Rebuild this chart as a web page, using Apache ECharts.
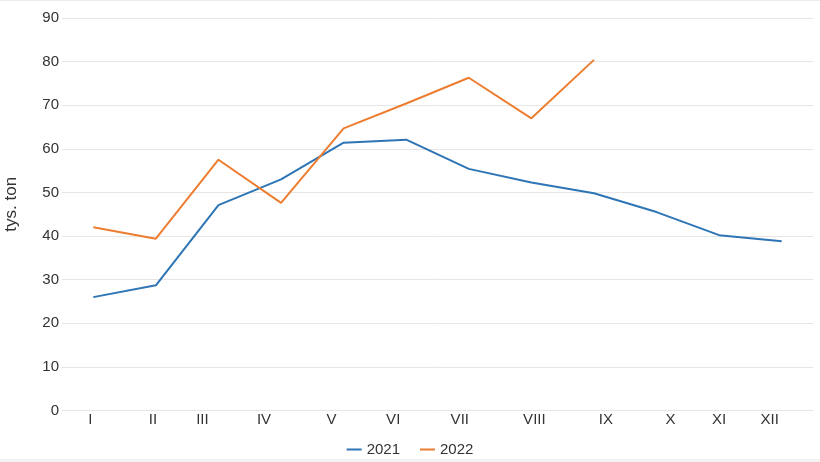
<!DOCTYPE html>
<html>
<head>
<meta charset="utf-8">
<script src="https://cdn.jsdelivr.net/npm/echarts@6/dist/echarts.min.js"></script>
<style>
  html, body { margin: 0; padding: 0; background: #f3f3f3; }
  #chart { width: 820px; height: 459px; background: #ffffff; border-top: 1px solid #ececec; box-sizing: border-box; }
</style>
</head>
<body>
<div id="chart"></div>
<script>
const months = ['I', 'II', 'III', 'IV', 'V', 'VI', 'VII', 'VIII', 'IX', 'X', 'XI', 'XII'];
const values2021 = [26.0, 28.7, 47.1, 53.0, 61.4, 62.1, 55.4, 52.3, 49.8, 45.5, 40.2, 38.8];
const values2022 = [42.0, 39.4, 57.5, 47.6, 64.7, 70.4, 76.3, 67.0, 80.4];
const yTicks = [0, 10, 20, 30, 40, 50, 60, 70, 80, 90];
// horizontal offset (px) of each month label relative to its category centre, as in the reference
const labelShift = [-3, -3, -16, -17, -12, -13, -9, 3, 12, 14, 0, -12];

const FONT = 'Liberation Sans, Arial, sans-serif';
const rich = {};
labelShift.forEach((d, i) => {
  rich['s' + i] = {
    fontFamily: FONT,
    fontSize: 15,
    color: '#333333',
    padding: d >= 0 ? [0, 0, 0, 2 * d] : [0, -2 * d, 0, 0]
  };
});

const chart = echarts.init(document.getElementById('chart'), null, { renderer: 'canvas' });
chart.setOption({
  animation: false,
  textStyle: { fontFamily: FONT },
  grid: { left: 62, right: 7, top: 17, bottom: 48.5, containLabel: false, outerBoundsMode: 'none' },
  legend: {
    data: ['2021', '2022'],
    top: 436,
    left: 'center',
    icon: 'rect',
    itemWidth: 15,
    itemHeight: 2,
    itemGap: 20,
    textStyle: { fontSize: 15, color: '#333333', fontFamily: FONT }
  },
  xAxis: {
    type: 'category',
    data: months,
    boundaryGap: true,
    axisLine: { show: true, lineStyle: { color: '#e6e6e6', width: 1 } },
    axisTick: { show: false },
    axisLabel: {
      margin: 2,
      interval: 0,
      hideOverlap: false,
      formatter: (v, i) => '{s' + i + '|' + v + '}',
      rich: rich
    }
  },
  yAxis: {
    type: 'value',
    min: yTicks[0],
    max: yTicks[yTicks.length - 1],
    interval: yTicks[1] - yTicks[0],
    name: 'tys. ton',
    nameLocation: 'middle',
    nameGap: 42,
    nameTextStyle: { fontSize: 17, color: '#333333', fontFamily: FONT, padding: [0, 0, 0, 20] },
    axisLine: { show: false },
    axisTick: { show: false },
    splitLine: { lineStyle: { color: '#e6e6e6', width: 1 } },
    axisLabel: {
      margin: 3,
      fontSize: 15,
      color: '#333333',
      padding: [0, 0, 5, 0],
      fontFamily: FONT
    }
  },
  series: [
    {
      name: '2021',
      type: 'line',
      data: values2021,
      symbol: 'none',
      lineStyle: { color: '#2e75b6', width: 2 },
      itemStyle: { color: '#2e75b6' }
    },
    {
      name: '2022',
      type: 'line',
      data: values2022,
      symbol: 'none',
      lineStyle: { color: '#ed7d31', width: 2 },
      itemStyle: { color: '#ed7d31' }
    }
  ]
});
</script>
</body>
</html>
